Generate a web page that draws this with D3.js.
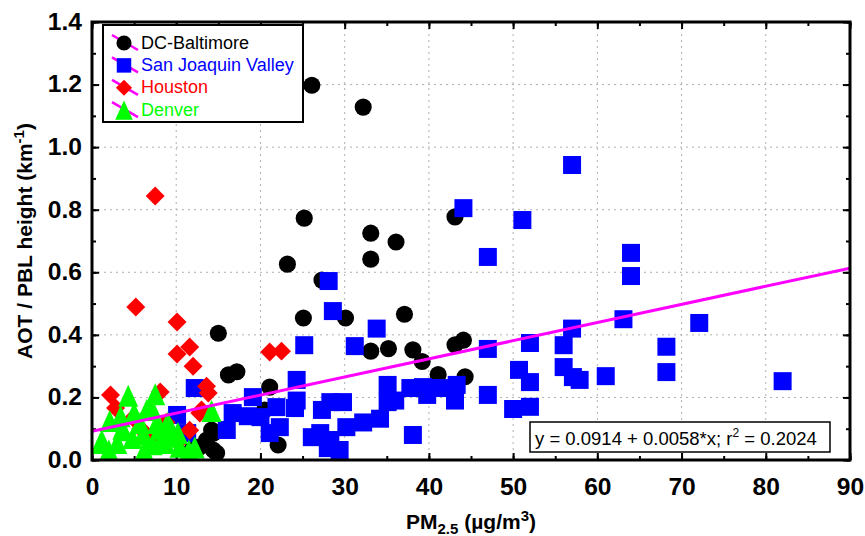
<!DOCTYPE html>
<html><head><meta charset="utf-8">
<script src="https://cdn.jsdelivr.net/npm/d3@7"></script>
<style>body{margin:0;background:#fff}svg{display:block}</style>
</head><body>
<svg id="c" width="865" height="536"></svg>
<script>
// ---- data ----
const seriesNames = ["DC-Baltimore", "San Joaquin Valley", "Houston", "Denver"];
const dcX = [26.1,32.2,43.1,25.2,33.1,36.1,23.2,33.1,27.3,15.0,25.1,30.1,37.1,16.2,17.2,21.1,33.1,35.2,38.1,39.2,41.1,43.1,44.1,44.3,22.1,13.6,14.4,12.8,14.8,20.5,14.2,14.4,11.8];
const dcY = [1.198,1.128,0.777,0.773,0.725,0.697,0.626,0.642,0.575,0.405,0.454,0.454,0.466,0.272,0.282,0.233,0.348,0.356,0.352,0.315,0.273,0.368,0.383,0.266,0.048,0.064,0.086,0.042,0.022,0.160,0.096,0.032,0.030];
const sjvX = [57.0,44.1,51.1,47.0,64.0,64.0,28.1,28.6,72.1,63.1,57.0,33.8,47.0,52.0,56.0,68.2,25.2,31.2,50.7,52.0,56.0,57.9,57.1,61.0,68.2,82.0,47.0,50.0,52.0,43.1,43.1,41.3,39.3,37.8,36.0,35.1,35.1,39.8,38.1,34.2,32.2,30.2,29.4,28.3,28.0,27.1,27.3,28.3,29.8,26.1,24.3,24.3,24.1,21.9,22.3,21.1,20.0,19.1,16.7,16.0,12.2,10.1,11.3,18.5,43.3];
const sjvY = [0.943,0.805,0.767,0.649,0.662,0.588,0.572,0.476,0.438,0.450,0.420,0.420,0.355,0.374,0.367,0.362,0.367,0.364,0.288,0.249,0.297,0.256,0.265,0.268,0.281,0.252,0.208,0.163,0.170,0.214,0.190,0.230,0.233,0.230,0.190,0.240,0.185,0.208,0.080,0.132,0.120,0.105,0.032,0.064,0.038,0.086,0.160,0.185,0.185,0.073,0.256,0.190,0.166,0.169,0.105,0.086,0.137,0.201,0.150,0.096,0.230,0.144,0.086,0.140,0.240];
const houX = [7.5,5.2,10.1,11.6,10.1,12.0,13.6,13.8,2.2,2.8,8.1,4.9,6.9,10.2,11.6,12.8,21.1,22.5,13.0,5.8,8.8];
const houY = [0.844,0.489,0.441,0.361,0.339,0.300,0.236,0.214,0.208,0.166,0.217,0.134,0.070,0.057,0.095,0.150,0.345,0.348,0.160,0.100,0.120];
const denX = [4.3,7.5,2.1,3.7,5.7,7.7,9.3,1.0,3.0,8.1,10.4,14.2,10.2,4.8,6.5,2.0,6.2,11.5,7.2,1.2,3.6,6.1,8.1,9.5,8.7,5.0,3.4,7.0,9.0,12.2];
const denY = [0.205,0.210,0.125,0.095,0.118,0.118,0.074,0.054,0.054,0.054,0.042,0.157,0.086,0.070,0.160,0.030,0.030,0.030,0.050,0.060,0.100,0.083,0.100,0.093,0.054,0.150,0.140,0.170,0.120,0.040];
const fitIntercept = 0.0914, fitSlope = 0.0058;
const fitLabel = ["y = 0.0914 + 0.0058*x; r", "2", " = 0.2024"];
const xTicks = [0,10,20,30,40,50,60,70,80,90];
const yTicks = [0,0.2,0.4,0.6,0.8,1.0,1.2,1.4];

// ---- layout ----
const svg = d3.select("#c");
const L = 92, R = 850, T = 22, B = 460;
const x = d3.scaleLinear().domain([0, 90]).range([L, R]);
const y = d3.scaleLinear().domain([0, 1.4]).range([B, T]);
const font = "'Liberation Sans', Arial, sans-serif";

// isosceles up-triangle symbol (width : height = 20 : 22), centred on its box
const tallTriangle = {
  draw(ctx, size) {
    const w = Math.sqrt(size * 2 * 20 / 22), h = w * 22 / 20;
    ctx.moveTo(0, -h / 2); ctx.lineTo(w / 2, h / 2); ctx.lineTo(-w / 2, h / 2); ctx.closePath();
  }
};

// grid
const g = svg.append("g");
g.selectAll(".gx").data(xTicks.slice(1, -1)).join("line")
  .attr("x1", d => x(d)).attr("x2", d => x(d)).attr("y1", T).attr("y2", B)
  .attr("stroke", "#b0b0b0").attr("stroke-width", 1).attr("stroke-dasharray", "2,4");
g.selectAll(".gy").data(yTicks.slice(1, -1)).join("line")
  .attr("y1", d => y(d)).attr("y2", d => y(d)).attr("x1", L).attr("x2", R)
  .attr("stroke", "#b0b0b0").attr("stroke-width", 1).attr("stroke-dasharray", "2,4");

// axes (ticks inward on all four sides)
function styleAxis(sel) {
  sel.select(".domain").remove();
  sel.selectAll(".tick line").attr("stroke", "#000").attr("stroke-width", 2);
  sel.selectAll("text").attr("font-family", font).attr("font-weight", "bold").attr("font-size", 23).attr("fill", "#000");
}
const xMinor = d3.range(0, 90.01, 5);
const yMinor = d3.range(0, 1.401, 0.1);
svg.append("g").attr("transform", `translate(0,${B})`)
  .call(d3.axisBottom(x).tickValues(xMinor).tickSize(-4).tickFormat("")).call(styleAxis);
const xa = svg.append("g").attr("transform", `translate(0,${B})`)
  .call(d3.axisBottom(x).tickValues(xTicks).tickSize(-7).tickPadding(19).tickFormat(d3.format("d"))).call(styleAxis);
xa.selectAll("text").attr("transform", "scale(1.07,1)");
svg.append("g").attr("transform", `translate(0,${T})`)
  .call(d3.axisTop(x).tickValues(xMinor).tickSize(-4).tickFormat("")).call(styleAxis);
svg.append("g").attr("transform", `translate(0,${T})`)
  .call(d3.axisTop(x).tickValues(xTicks).tickSize(-7).tickFormat("")).call(styleAxis);
svg.append("g").attr("transform", `translate(${L},0)`)
  .call(d3.axisLeft(y).tickValues(yMinor).tickSize(-4).tickFormat("")).call(styleAxis);
const ya = svg.append("g").attr("transform", `translate(${L},0)`)
  .call(d3.axisLeft(y).tickValues(yTicks).tickSize(-7).tickPadding(10).tickFormat(d3.format(".1f"))).call(styleAxis);
ya.selectAll("text").attr("x", null).attr("transform", "translate(-10,0) scale(1.07,1)");
svg.append("g").attr("transform", `translate(${R},0)`)
  .call(d3.axisRight(y).tickValues(yMinor).tickSize(-4).tickFormat("")).call(styleAxis);
svg.append("g").attr("transform", `translate(${R},0)`)
  .call(d3.axisRight(y).tickValues(yTicks).tickSize(-7).tickFormat("")).call(styleAxis);

// markers
const clipId = "plotclip";
svg.append("clipPath").attr("id", clipId).append("rect").attr("x", L).attr("y", T).attr("width", R - L).attr("height", B - T);
const plot = svg.append("g").attr("clip-path", `url(#${clipId})`);
const zip = (a, b) => a.map((v, i) => [v, b[i]]);
const specs = [
  {name: seriesNames[0], xs: dcX, ys: dcY, type: d3.symbolCircle, size: 230, color: "#000000", rot: 0, legendSize: 180},
  {name: seriesNames[1], xs: sjvX, ys: sjvY, type: d3.symbolSquare, size: 324, color: "#0000ff", rot: 0, legendSize: 210},
  {name: seriesNames[2], xs: houX, ys: houY, type: d3.symbolSquare, size: 180, color: "#ff0000", rot: 45, legendSize: 130},
  {name: seriesNames[3], xs: denX, ys: denY, type: tallTriangle, size: 220, color: "#00ff00", rot: 0, legendSize: 170}
];
specs.forEach(s => {
  plot.append("g").selectAll("path").data(zip(s.xs, s.ys)).join("path")
    .attr("d", d3.symbol().type(s.type).size(s.size)())
    .attr("transform", d => `translate(${x(d[0])},${y(d[1])}) rotate(${s.rot})`)
    .attr("fill", s.color);
});

// regression line
plot.append("line")
  .attr("x1", x(0)).attr("y1", y(fitIntercept))
  .attr("x2", x(90)).attr("y2", y(fitIntercept + fitSlope * 90))
  .attr("stroke", "#ff00ff").attr("stroke-width", 3);

// frame
svg.append("rect").attr("x", L).attr("y", T).attr("width", R - L).attr("height", B - T)
  .attr("fill", "none").attr("stroke", "#000").attr("stroke-width", 3);

// legend
const lg = svg.append("g");
lg.append("rect").attr("x", 103).attr("y", 25).attr("width", 200).attr("height", 97)
  .attr("fill", "#fff").attr("stroke", "#000").attr("stroke-width", 2);
specs.forEach((s, i) => {
  const cy = 42 + i * 22.4, cx = 124;
  lg.append("line").attr("x1", cx - 12).attr("y1", cy - 7).attr("x2", cx + 14).attr("y2", cy + 8)
    .attr("stroke", "#ff00ff").attr("stroke-width", 2.5);
  lg.append("path").attr("d", d3.symbol().type(s.type).size(s.legendSize)())
    .attr("transform", `translate(${cx},${cy + 1}) rotate(${s.rot})`).attr("fill", s.color);
  lg.append("text").attr("x", 141).attr("y", cy + 6.5).text(s.name)
    .attr("font-family", font).attr("font-size", 18).attr("fill", s.color);
});

// fit equation box
svg.append("rect").attr("x", 530).attr("y", 422).attr("width", 300).attr("height", 30)
  .attr("fill", "#fff").attr("stroke", "#000").attr("stroke-width", 1.5);
const ft = svg.append("text").attr("x", 535).attr("y", 444.5).attr("font-family", font).attr("font-size", 18.5).attr("fill", "#000");
ft.append("tspan").text(fitLabel[0]);
ft.append("tspan").attr("dy", -8).attr("font-size", 12).text(fitLabel[1]);
ft.append("tspan").attr("dy", 8).text(fitLabel[2]);

// axis titles
const xt = svg.append("text").attr("x", x(45)).attr("y", 529).attr("text-anchor", "middle")
  .attr("font-family", font).attr("font-weight", "bold").attr("font-size", 21).attr("fill", "#000");
xt.append("tspan").text("PM");
xt.append("tspan").attr("dy", 5).attr("font-size", 15).text("2.5");
xt.append("tspan").attr("dy", -5).text(" (µg/m");
xt.append("tspan").attr("dy", -8).attr("font-size", 15).text("3");
xt.append("tspan").attr("dy", 8).text(")");

const yt = svg.append("text").attr("transform", `translate(32,${(T + B) / 2}) rotate(-90)`).attr("text-anchor", "middle")
  .attr("font-family", font).attr("font-weight", "bold").attr("font-size", 21).attr("fill", "#000");
yt.append("tspan").text("AOT / PBL height (km");
yt.append("tspan").attr("dy", -8).attr("font-size", 15).text("-1");
yt.append("tspan").attr("dy", 8).text(")");
</script>
</body></html>
